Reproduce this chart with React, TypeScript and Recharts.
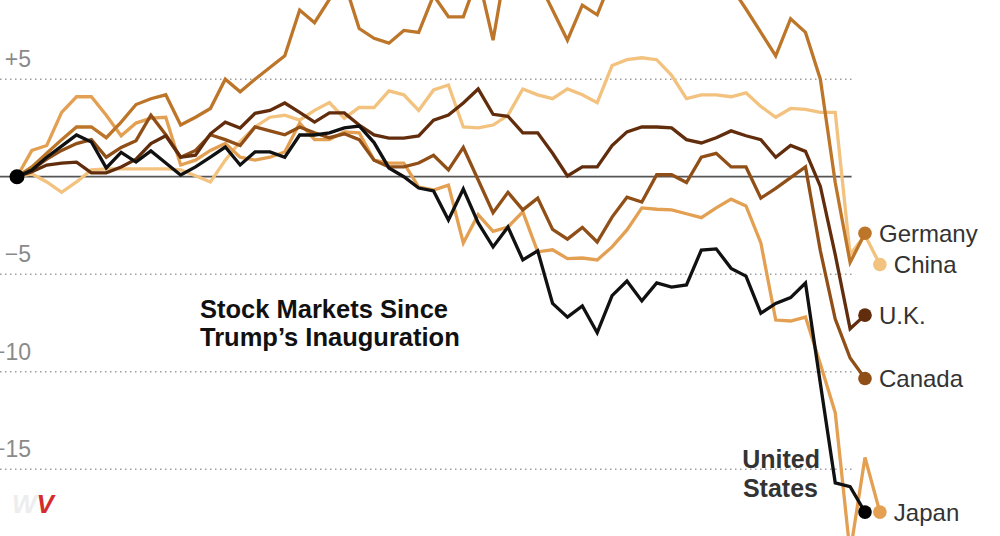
import { LineChart, Line, XAxis, YAxis, ReferenceLine } from 'recharts';

// trading days since the inauguration (China and Japan have one more session)
const days = Array.from({ length: 59 }, (_, i) => i);

// % change since inauguration
const unitedStates = [
  0, 0.34, 1.0, 1.57, 2.14, 1.78, 0.45, 1.25, 0.75, 1.32, 0.7, 0.09, 0.5, 1.0, 1.52, 0.6, 1.27, 1.27, 1.0, 2.14,
  2.14, 2.25, 2.5, 2.6, 1.75, 0.45, 0.0, -0.58, -0.73, -2.22, -0.63, -2.37, -3.6, -2.58, -4.27, -3.8, -6.5, -7.2,
  -6.63, -8.0, -6.1, -5.35, -6.37, -5.45, -5.66, -5.55, -3.76, -3.7, -4.7, -5.1, -7.0, -6.5, -6.2, -5.45, -10.6,
  -15.7, -15.9, -17.2,
];
const germany = [
  0, 0.5, 1.2, 1.9, 2.55, 2.55, 2.0, 2.8, 3.7, 4.0, 4.2, 2.65, 3.05, 3.5, 5.0, 4.35, 5.0, 5.6, 6.2, 8.55, 7.9, 9.1,
  10.0, 7.6, 7.1, 6.85, 7.5, 7.4, 9.3, 8.2, 8.2, 10.3, 7.0, 11.4, 11.0, 10.1, 8.55, 7.0, 8.8, 8.3, 10.2, 10.5, 10.9,
  10.6, 11.2, 10.8, 11.3, 10.9, 9.75, 8.6, 7.4, 6.2, 8.1, 7.4, 5.0, -0.3, -4.4, -2.9,
];
const china = [
  0, 0.15, -0.27, -0.8, -0.27, 0.35, 0.4, 0.4, 0.4, 0.4, 0.4, 0.35, 0.05, -0.27, 0.85, 1.8, 2.55, 3.05, 3.15, 2.9,
  3.4, 3.8, 3.0, 3.55, 3.55, 4.4, 4.2, 3.4, 4.45, 4.7, 2.55, 2.5, 2.65, 3.15, 4.5, 4.2, 4.0, 4.5, 4.2, 3.8, 5.7, 6.0,
  6.1, 6.0, 5.2, 4.0, 4.2, 4.2, 4.1, 4.3, 3.6, 3.05, 3.5, 3.45, 3.3, 3.3, -4.0, -3.0, -4.5,
];
const unitedKingdom = [
  0, 0.25, 0.6, 0.7, 0.75, 0.2, 0.2, 0.5, 0.9, 1.7, 2.1, 1.0, 1.1, 2.2, 2.8, 2.5, 3.25, 3.4, 3.78, 3.3, 2.8, 3.27,
  3.27, 2.65, 2.14, 1.98, 1.98, 2.09, 2.9, 3.16, 3.78, 4.5, 3.2, 3.1, 2.25, 2.25, 1.2, 0.04, 0.5, 0.5, 1.6, 2.3,
  2.55, 2.55, 2.5, 1.9, 1.73, 2.0, 2.35, 2.1, 1.9, 1.0, 1.6, 1.3, -0.5, -4.0, -7.8, -7.1,
];
const canada = [
  0, 0.35, 0.9, 1.35, 1.7, 1.9, 1.0, 1.5, 1.85, 3.15, 2.15, 1.0, 1.35, 2.15, 1.9, 1.6, 2.55, 2.35, 2.15, 2.55, 2.25,
  2.0, 2.2, 1.9, 0.85, 0.5, 0.5, 0.7, 1.1, 0.35, 1.5, -0.17, -1.85, -0.8, -1.7, -1.1, -2.7, -3.2, -2.6, -3.35,
  -2.07, -1.05, -1.3, 0.1, 0.1, -0.3, 1.0, 1.2, 0.5, 0.5, -1.1, -0.6, -0.05, 0.5, -3.8, -7.3, -9.3, -10.35,
];
const japan = [
  0, 1.35, 1.6, 3.3, 4.1, 4.1, 3.15, 2.1, 2.75, 3.0, 3.05, 0.6, 0.85, 1.35, 1.7, 1.0, 0.85, 1.0, 1.27, 2.75, 1.9,
  1.9, 2.3, 2.25, 0.85, 0.7, 0.7, -0.53, -0.68, -0.43, -3.4, -1.95, -2.8, -2.58, -1.8, -3.85, -3.75, -4.2, -4.17,
  -4.27, -3.6, -2.73, -1.6, -1.67, -1.7, -1.9, -2.1, -1.6, -1.15, -1.5, -3.4, -7.35, -7.4, -7.2, -9.6, -12.1, -19.3,
  -14.4, -17.2,
];

const gridTicks = [5, -5, -10, -15];

const data = days.map((day) => ({
  day,
  us: unitedStates[day],
  germany: germany[day],
  china: china[day],
  uk: unitedKingdom[day],
  canada: canada[day],
  japan: japan[day],
}));

const X_DOMAIN: [number, number] = [-1.1427, 66.075];
const Y_DOMAIN: [number, number] = [-18.426, 9.062];
const GRID_END = 56.1;

const font = '"Liberation Sans", Arial, sans-serif';

const fmtTick = (v: number) => (v > 0 ? `+${v}` : `\u2212${Math.abs(v)}`);

const YTick = (props: any) => {
  const { y, payload } = props;
  return (
    <text x={31} y={y - 12} textAnchor="end" fill="#8a8a8a" fontSize={23} fontFamily={font}>
      {fmtTick(payload.value)}
    </text>
  );
};

const endDot = (last: number, color: string, label: string) => (props: any) => {
  const { cx, cy, index } = props;
  if (index !== last || cx == null || cy == null) return <g key={`d${index}`} />;
  return (
    <g key={`d${index}`}>
      <circle cx={cx} cy={cy} r={6.8} fill={color} />
      <text x={cx + 14} y={cy} dy="0.36em" fill="#333" fontSize={24} fontFamily={font}>
        {label}
      </text>
    </g>
  );
};

const usDot = (props: any) => {
  const { cx, cy, index } = props;
  if (cx == null || cy == null) return <g key={`u${index}`} />;
  if (index === 0) return <circle key="u0" cx={cx} cy={cy} r={7.5} fill="#000" />;
  if (index !== unitedStates.length - 1) return <g key={`u${index}`} />;
  return (
    <g key={`u${index}`}>
      <circle cx={cx} cy={cy} r={6.8} fill="#000" />
      <text x={cx - 45} y={cy - 44} textAnchor="end" fill="#333" fontSize={25} fontWeight="bold" fontFamily={font}>
        United
      </text>
      <text x={cx - 47} y={cy - 15} textAnchor="end" fill="#333" fontSize={25} fontWeight="bold" fontFamily={font}>
        States
      </text>
    </g>
  );
};

export default function App() {
  return (
    <div style={{ position: 'absolute', left: 0, top: 0, width: 1000, height: 536, background: '#fff', overflow: 'hidden' }}>
      <LineChart width={1000} height={536} data={data} margin={{ top: 0, right: 0, bottom: 0, left: 0 }}>
        <XAxis type="number" dataKey="day" domain={X_DOMAIN} allowDataOverflow hide />
        <YAxis
          type="number"
          mirror
          width={40}
          domain={Y_DOMAIN}
          allowDataOverflow
          ticks={gridTicks}
          interval={0}
          tick={YTick}
          axisLine={false}
          tickLine={false}
        />
        {gridTicks.map((v) => (
          <ReferenceLine
            key={v}
            segment={[{ x: X_DOMAIN[0], y: v }, { x: GRID_END, y: v }]}
            stroke="#9d9d9d"
            strokeWidth={1.5}
            strokeDasharray="1.5 3.5"
          />
        ))}
        <ReferenceLine segment={[{ x: X_DOMAIN[0], y: 0 }, { x: GRID_END, y: 0 }]} stroke="#555" strokeWidth={1.7} />

        <Line dataKey="china" stroke="#f2c27e" strokeWidth={3.3} dot={endDot(china.length - 1, '#f2c27e', 'China')} activeDot={false} isAnimationActive={false} />
        <Line dataKey="japan" stroke="#e3a052" strokeWidth={3.3} dot={endDot(japan.length - 1, '#e3a052', 'Japan')} activeDot={false} isAnimationActive={false} />
        <Line dataKey="canada" stroke="#914f18" strokeWidth={3.3} dot={endDot(canada.length - 1, '#914f18', 'Canada')} activeDot={false} isAnimationActive={false} />
        <Line dataKey="germany" stroke="#bd7629" strokeWidth={3.3} dot={endDot(germany.length - 1, '#bd7629', 'Germany')} activeDot={false} isAnimationActive={false} />
        <Line dataKey="uk" stroke="#622d0c" strokeWidth={3.3} dot={endDot(unitedKingdom.length - 1, '#622d0c', 'U.K.')} activeDot={false} isAnimationActive={false} />
        <Line dataKey="us" stroke="#111" strokeWidth={3.3} dot={usDot} activeDot={false} isAnimationActive={false} />
      </LineChart>

      <svg width={1000} height={536} style={{ position: 'absolute', left: 0, top: 0, pointerEvents: 'none' }}>
        <text x={200} y={318} fill="#111" fontSize={25.5} fontWeight="bold" fontFamily={font}>
          Stock Markets Since
        </text>
        <text x={200} y={346} fill="#111" fontSize={25.5} fontWeight="bold" fontFamily={font}>
          Trump’s Inauguration
        </text>
        <text x={12} y={513} fontSize={26} fontWeight="bold" fontStyle="italic" fontFamily={font}>
          <tspan fill="#ededed">W</tspan>
          <tspan fill="#d62b2b">V</tspan>
        </text>
      </svg>
    </div>
  );
}
